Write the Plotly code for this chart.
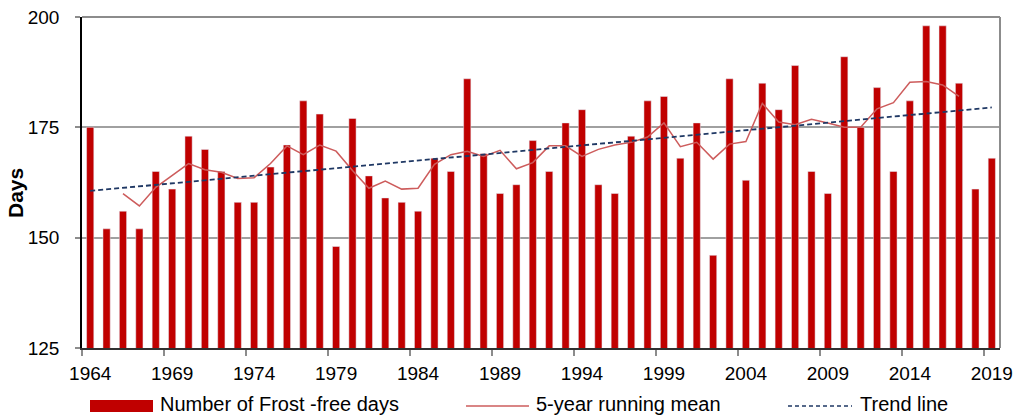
import plotly.graph_objects as go

years = list(range(1964, 2020))
frost_free_days = [175, 152, 156, 152, 165, 161, 173, 170, 165, 158,
                   158, 166, 171, 181, 178, 148, 177, 164, 159, 158,
                   156, 168, 165, 186, 169, 160, 162, 172, 165, 176,
                   179, 162, 160, 173, 181, 182, 168, 176, 146, 186,
                   163, 185, 179, 189, 165, 160, 191, 175, 184, 165,
                   181, 198, 198, 185, 161, 168]
mean_years = list(range(1966, 2018))
running_mean = [160.0, 157.2, 161.4, 164.2, 166.8, 165.4, 164.8, 163.4, 163.6, 166.8,
                170.8, 168.8, 171.0, 169.6, 165.2, 161.2, 162.8, 161.0, 161.2, 166.6,
                168.8, 169.6, 168.4, 169.8, 165.6, 167.0, 170.8, 170.8, 168.4, 170.0,
                171.0, 171.6, 172.8, 176.0, 170.6, 171.6, 167.8, 171.2, 171.8, 180.4,
                176.2, 175.6, 176.8, 176.0, 175.0, 175.0, 179.2, 180.6, 185.2, 185.4,
                184.6, 182.0]
trend_years = [1964, 2019]
trend_values = [160.6, 179.5]
tick_years = list(range(1964, 2020, 5))
tick_labels = [str(y) for y in tick_years]
y_ticks = [125, 150, 175, 200]

FONT = "Liberation Sans, Arial, sans-serif"
BAR_C = "#C00000"
MEAN_C = "#CD5C5C"
TREND_C = "#1F3864"

W, H = 1027, 418
L, R, T, B = 82, 27, 17, 70
PW, PH = W - L - R, H - T - B


def px(x):
    return (x - L) / PW


def py(y):
    return (H - B - y) / PH


fig = go.Figure()
fig.add_trace(go.Bar(x=years, y=frost_free_days, marker_color=BAR_C,
                     width=0.44, name="Number of Frost -free days"))
fig.add_trace(go.Scatter(x=mean_years, y=running_mean, mode="lines",
                         line=dict(color=MEAN_C, width=1.5), name="5-year running mean"))
fig.add_trace(go.Scatter(x=trend_years, y=trend_values, mode="lines",
                         line=dict(color=TREND_C, width=1.8, dash="5px,3px"), name="Trend line"))

shapes = [
    dict(type="line", xref="paper", yref="paper", x0=0, x1=1, y0=1, y1=1,
         line=dict(color="#8C8C8C", width=2)),
    dict(type="line", xref="paper", yref="paper", x0=1, x1=1, y0=0, y1=1,
         line=dict(color="#8C8C8C", width=2)),
    # legend swatches
    dict(type="rect", xref="paper", yref="paper", x0=px(90), x1=px(153), y0=py(400), y1=py(412),
         fillcolor=BAR_C, line=dict(width=0)),
    dict(type="line", xref="paper", yref="paper", x0=px(466), x1=px(529), y0=py(406), y1=py(406),
         line=dict(color=MEAN_C, width=1.5)),
    dict(type="line", xref="paper", yref="paper", x0=px(788), x1=px(852), y0=py(406), y1=py(406),
         line=dict(color=TREND_C, width=1.3, dash="4px,3px")),
]

annotations = [
    dict(text="Number of Frost -free days", xref="paper", yref="paper", x=px(158), y=py(404),
         xanchor="left", yanchor="middle", showarrow=False, font=dict(size=20)),
    dict(text="5-year running mean", xref="paper", yref="paper", x=px(534), y=py(404),
         xanchor="left", yanchor="middle", showarrow=False, font=dict(size=20)),
    dict(text="Trend line", xref="paper", yref="paper", x=px(858), y=py(404),
         xanchor="left", yanchor="middle", showarrow=False, font=dict(size=20)),
    dict(text="<b>Days</b>", xref="paper", yref="paper", x=px(15), y=py(193),
         xanchor="center", yanchor="middle", textangle=-90, showarrow=False, font=dict(size=21)),
]

fig.update_layout(
    width=W, height=H,
    margin=dict(l=L, r=R, t=T, b=B, autoexpand=False),
    paper_bgcolor="white", plot_bgcolor="white",
    font=dict(family=FONT, size=19, color="black"),
    showlegend=False,
    shapes=shapes,
    annotations=annotations,
    bargap=0.5,
)
fig.update_xaxes(
    range=[1963.5, 2019.5], tickmode="array", tickvals=tick_years, ticktext=tick_labels,
    ticks="", ticklabelstandoff=7, showgrid=False, zeroline=False, automargin=False,
    showline=True, linecolor="#303030", linewidth=1.5,
    minor=dict(tickmode="array", tickvals=[y - 0.5 for y in tick_years],
               ticks="outside", ticklen=6, tickcolor="#8C8C8C", tickwidth=1.5, showgrid=False),
)
fig.update_yaxes(
    range=[125, 200], tickmode="array", tickvals=y_ticks, automargin=False,
    ticks="outside", ticklen=5, tickcolor="#8C8C8C", tickwidth=1.5, ticklabelstandoff=12,
    showgrid=True, gridcolor="#A0A0A0", gridwidth=1.5, zeroline=False,
    showline=True, linecolor="black", linewidth=1.5,
)

fig.write_html("out.html", config={"displayModeBar": False},
               post_script="document.body.style.margin='0px';document.body.style.overflow='hidden';")
